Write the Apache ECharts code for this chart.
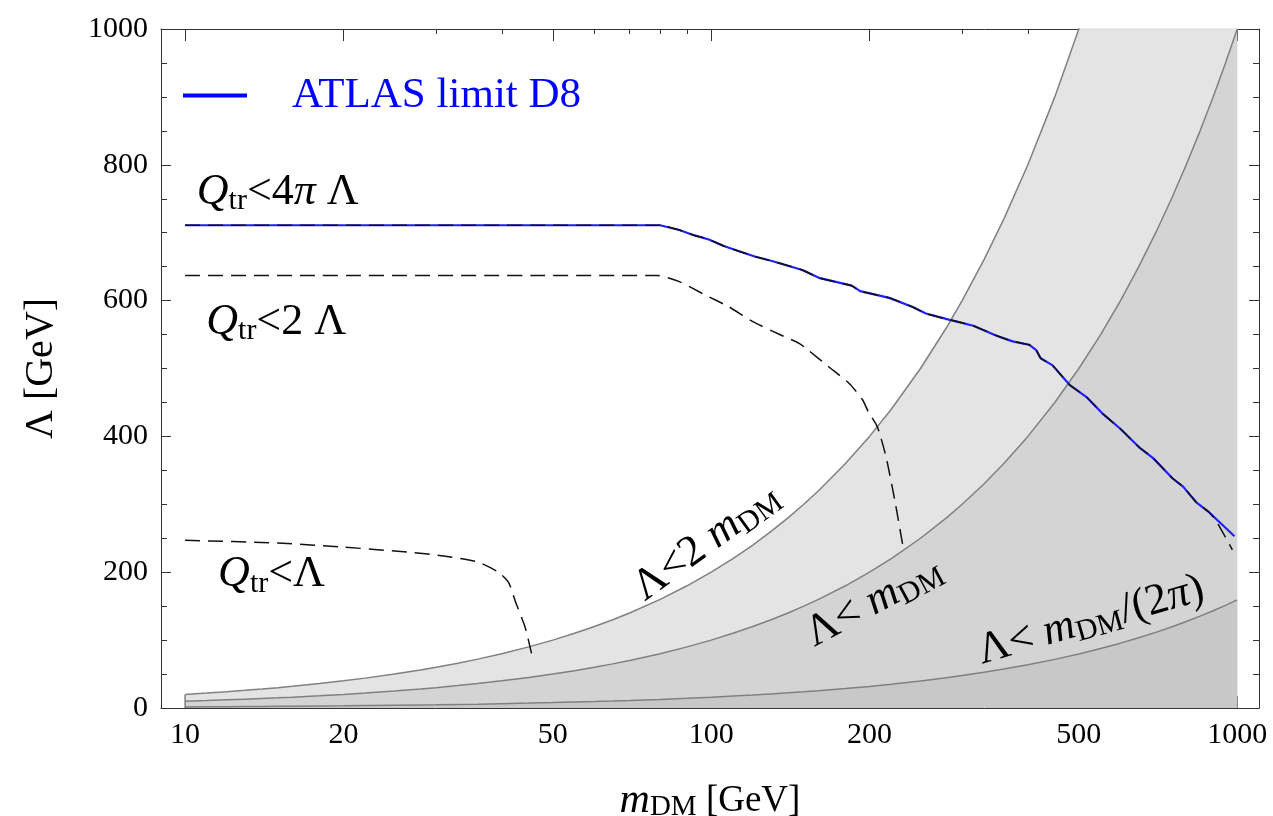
<!DOCTYPE html>
<html>
<head>
<meta charset="utf-8">
<script src="https://cdn.jsdelivr.net/npm/echarts@6/dist/echarts.min.js"></script>
<style>
  html, body { margin: 0; padding: 0; background: #fff; }
  #chart { width: 1273px; height: 816px; }
</style>
</head>
<body>
<div id="chart"></div>
<script>
// ---- data (m_DM in GeV, Lambda in GeV) ----
const xMin = 9, xMax = 1100;
const majorTicks = [10, 20, 50, 100, 200, 500, 1000];
const minorTicks = [30, 40, 60, 70, 80, 90, 300, 400, 600, 700, 800, 900];

// shaded bands: Lambda = 2 m, Lambda = m, Lambda = m/(2 pi)
const bandM = [10, 11, 12, 13, 14, 15, 16, 18, 20, 22, 25, 28, 30, 33, 36, 40, 45, 50, 55, 60, 65, 70, 80, 90, 100, 110, 120, 130, 140, 150, 160, 180, 200, 220, 250, 280, 300, 330, 360, 400, 450, 500, 550, 600, 650, 700, 750, 800, 850, 900, 950, 1000];
const lam2m = [20, 22, 24, 26, 28, 30, 32, 36, 40, 44, 50, 56, 60, 66, 72, 80, 90, 100, 110, 120, 130, 140, 160, 180, 200, 220, 240, 260, 280, 300, 320, 360, 400, 440, 500, 560, 600, 660, 720, 800, 900, 1000, 1100, 1200, 1300, 1400, 1500, 1600, 1700, 1800, 1900, 2000];
const lam1m = [10, 11, 12, 13, 14, 15, 16, 18, 20, 22, 25, 28, 30, 33, 36, 40, 45, 50, 55, 60, 65, 70, 80, 90, 100, 110, 120, 130, 140, 150, 160, 180, 200, 220, 250, 280, 300, 330, 360, 400, 450, 500, 550, 600, 650, 700, 750, 800, 850, 900, 950, 1000];
const lam2pi = [1.6, 1.8, 1.9, 2.1, 2.2, 2.4, 2.5, 2.9, 3.2, 3.5, 4.0, 4.5, 4.8, 5.3, 5.7, 6.4, 7.2, 8.0, 8.8, 9.5, 10.3, 11.1, 12.7, 14.3, 15.9, 17.5, 19.1, 20.7, 22.3, 23.9, 25.5, 28.6, 31.8, 35.0, 39.8, 44.6, 47.7, 52.5, 57.3, 63.7, 71.6, 79.6, 87.5, 95.5, 103.5, 111.4, 119.4, 127.3, 135.3, 143.2, 151.2, 159.2];
const edgeM = [10, 10];
const edgeLam = [0, 20];

// ATLAS limit D8
const atlasM = [10, 80, 87, 93, 99, 106, 121, 131, 149, 161, 185, 192, 218, 241, 256, 283, 315, 347, 374, 402, 415, 423, 445, 480, 517, 554, 598, 651, 692, 754, 789, 836, 885, 988];
const atlasLam = [711, 711, 704, 696, 690, 680, 665, 658, 645, 633, 622, 614, 604, 591, 581, 572, 563, 549, 540, 535, 527, 515, 505, 476, 458, 434, 412, 384, 368, 338, 326, 303, 288, 253];

// Q_tr < 4 pi Lambda (follows ATLAS, drops at the end)
const q4M = [10, 80, 87, 93, 99, 106, 121, 131, 149, 161, 185, 192, 218, 241, 256, 283, 315, 347, 374, 402, 415, 423, 445, 480, 517, 554, 598, 651, 692, 754, 789, 836, 885, 911, 979];
const q4Lam = [711, 711, 704, 696, 690, 680, 665, 658, 645, 633, 622, 614, 604, 591, 581, 572, 563, 549, 540, 535, 527, 515, 505, 476, 458, 434, 412, 384, 368, 338, 326, 303, 288, 276, 233];

// Q_tr < 2 Lambda
const q2M = [10, 79, 87, 97, 108, 120, 135, 147, 153, 167, 183, 194, 199, 207, 215, 224, 232];
const q2Lam = [637, 637, 628, 609, 591, 569, 550, 537, 527, 503, 478, 454, 436, 414, 370, 301, 234];

// Q_tr < Lambda
const q1M = [10, 15, 20, 27, 31, 36, 39.4, 41.2, 42.4, 44.3, 45.6];
const q1Lam = [247, 243, 237, 229, 224, 215, 200, 185, 158, 119, 79];

// text labels: [m, Lambda, rotation]
const labelPos = {
  q4: [15.0, 760, 0],
  q2: [14.9, 568, 0],
  q1: [14.6, 196, 0],
  l2: [98, 244, 36],
  l1: [204, 156, 28],
  l2pi: [527, 129, 16]
};

const FONT = 'Liberation Serif';
const lg = v => Math.log10(v);
const pts = (ms, ls) => ms.map((m, i) => [lg(m), ls[i]]);

const rich = {
  i: { fontFamily: FONT, fontStyle: 'italic', fontSize: 44, lineHeight: 48, color: '#000' },
  r: { fontFamily: FONT, fontSize: 44, lineHeight: 48, color: '#000' },
  s: { fontFamily: FONT, fontSize: 30, lineHeight: 22, verticalAlign: 'bottom', color: '#000' }
};

const labelText = {
  q4: '{i|Q}{s|tr}{r|<4}{i|π}{r| Λ}',
  q2: '{i|Q}{s|tr}{r|<2 Λ}',
  q1: '{i|Q}{s|tr}{r|<Λ}',
  l2: '{r|Λ<2 }{i|m}{s|DM}',
  l1: '{r|Λ< }{i|m}{s|DM}',
  l2pi: '{r|Λ< }{i|m}{s|DM}{r|/(2}{i|π}{r|)}'
};

const frame = '#333';
const dash = [15, 8];

function xAxisDef(pos, ticks, len, withLabel, withLine) {
  return {
    type: 'value', position: pos, min: lg(xMin), max: lg(xMax),
    axisLine: { show: withLine, lineStyle: { color: frame, width: 1 } },
    axisTick: { show: true, inside: true, length: len, customValues: ticks.map(lg), lineStyle: { color: frame, width: 1 } },
    axisLabel: {
      show: withLabel, customValues: ticks.map(lg), margin: 12,
      fontFamily: FONT, fontSize: 30, color: '#000',
      formatter: v => String(Math.round(Math.pow(10, v)))
    },
    splitLine: { show: false }
  };
}

function yAxisDef(pos, withLabel) {
  return {
    type: 'value', position: pos, min: 0, max: 1000, interval: 200,
    axisLine: { show: true, lineStyle: { color: frame, width: 1 } },
    axisTick: { show: true, inside: true, length: 10, lineStyle: { color: frame, width: 1 } },
    minorTick: { show: true, splitNumber: 4, length: 6, lineStyle: { color: frame, width: 1 } },
    axisLabel: { show: withLabel, margin: 13, fontFamily: FONT, fontSize: 30, color: '#000', formatter: v => String(v) },
    splitLine: { show: false }
  };
}

const xBottom = xAxisDef('bottom', majorTicks, 12, true, true);
xBottom.name = '{i|m}{s|DM}{r| [GeV]}';
xBottom.nameLocation = 'middle';
xBottom.nameGap = 72;
xBottom.nameTextStyle = {
  rich: {
    i: { fontFamily: FONT, fontStyle: 'italic', fontSize: 42, lineHeight: 42, color: '#000' },
    r: { fontFamily: FONT, fontSize: 37, lineHeight: 42, color: '#000' },
    s: { fontFamily: FONT, fontSize: 29, lineHeight: 20, verticalAlign: 'bottom', color: '#000' }
  }
};

const yLeft = yAxisDef('left', true);
yLeft.name = 'Λ [GeV]';
yLeft.nameLocation = 'middle';
yLeft.nameRotate = 90;
yLeft.nameGap = 100;
yLeft.nameTextStyle = { fontFamily: FONT, fontSize: 40, color: '#000' };

function band(name, data, color, z) {
  return {
    name: name, type: 'line', data: data, symbol: 'none', silent: true, z: z,
    lineStyle: { color: '#808080', width: 1.5 },
    areaStyle: { color: color, opacity: 1 }
  };
}

function dashed(name, data, z) {
  return {
    name: name, type: 'line', data: data, symbol: 'none', silent: true, z: z,
    smooth: 0.2,
    lineStyle: { color: '#111', width: 1.5, type: dash }
  };
}

const labelData = Object.keys(labelPos).map(k => ({
  value: [lg(labelPos[k][0]), labelPos[k][1]],
  label: { formatter: labelText[k], rotate: labelPos[k][2] }
}));

const chart = echarts.init(document.getElementById('chart'), null, { renderer: 'canvas' });
chart.setOption({
  animation: false,
  backgroundColor: '#fff',
  grid: { left: 161, right: 14, top: 29, bottom: 108, containLabel: false, outerBoundsMode: 'none' },
  legend: {
    data: ['ATLAS limit D8'], left: 183, top: 74, padding: 0,
    icon: 'rect', itemWidth: 64, itemHeight: 4,
    textStyle: { fontFamily: FONT, fontSize: 43, color: '#0000ff', padding: [0, 0, 0, 40] }
  },
  xAxis: [
    xBottom,
    xAxisDef('bottom', minorTicks, 5, false, false),
    xAxisDef('top', majorTicks, 12, false, true),
    xAxisDef('top', minorTicks, 5, false, false)
  ],
  yAxis: [yLeft, yAxisDef('right', false)],
  series: [
    band('2m', pts(bandM, lam2m), '#e4e4e4', 1),
    band('m', pts(bandM, lam1m), '#d4d4d4', 2),
    band('m2pi', pts(bandM, lam2pi), '#c8c8c8', 3),
    {
      name: 'edge', type: 'line', data: pts(edgeM, edgeLam), symbol: 'none', silent: true, z: 4,
      lineStyle: { color: '#808080', width: 1.5 }
    },
    dashed('Q<Λ', pts(q1M, q1Lam), 5),
    dashed('Q<2Λ', pts(q2M, q2Lam), 5),
    {
      name: 'ATLAS limit D8', type: 'line', data: pts(atlasM, atlasLam), symbol: 'none', silent: true, z: 6,
      itemStyle: { color: '#0000ff' },
      lineStyle: { color: '#1f1fff', width: 2.2 }
    },
    dashed('Q<4πΛ', pts(q4M, q4Lam), 7),
    {
      name: 'labels', type: 'scatter', data: labelData, symbolSize: 0, silent: true, z: 8,
      itemStyle: { opacity: 1 },
      label: {
        show: true, position: 'inside', align: 'center', verticalAlign: 'middle',
        color: '#000', opacity: 1, textBorderWidth: 0, rich: rich
      }
    }
  ]
});
</script>
</body>
</html>
